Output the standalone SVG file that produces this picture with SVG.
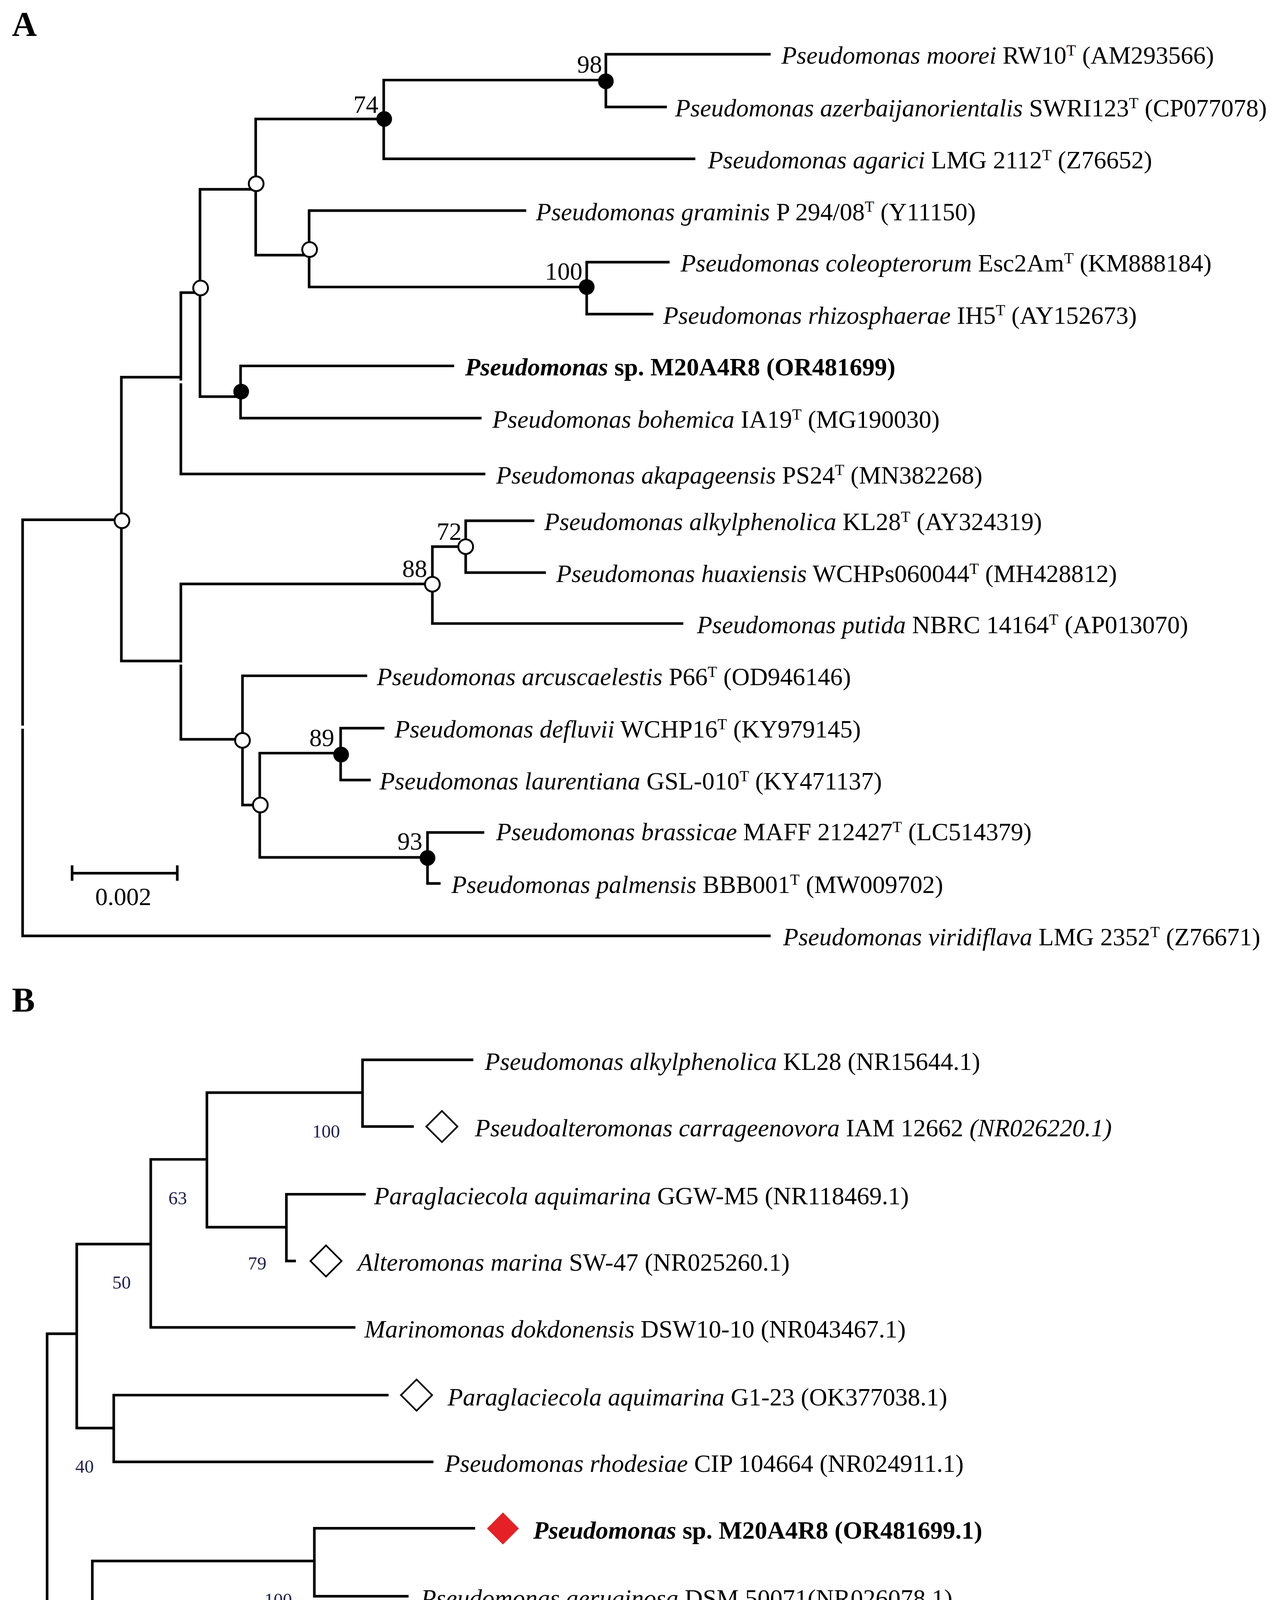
<svg xmlns="http://www.w3.org/2000/svg" width="3290" height="4773" viewBox="0 0 3290 4773">
<style>
.br{stroke:#000;stroke-width:2.2;fill:none;stroke-linejoin:miter;stroke-linecap:butt}
.t{font-family:"Liberation Serif","Times New Roman",serif;font-size:21px;fill:#000}
.i{font-style:italic}
.b{font-weight:bold}
.s{font-size:13px}
.bs{font-family:"Liberation Serif","Times New Roman",serif;font-size:15.5px;fill:#1f1f4f}
.oc{fill:#fff;stroke:#000;stroke-width:1.6}
.fc{fill:#000;stroke:none}
.dm{fill:#fff;stroke:#000;stroke-width:1.4}
.red{fill:#e52027;stroke:none}
.pl{font-family:"Liberation Serif","Times New Roman",serif;font-size:29px;font-weight:bold;fill:#000}
</style>
<rect x="0" y="0" width="3290" height="4773" fill="#fff"/>
<g transform="scale(3.04630)">
<text class="pl" x="10" y="30">A</text>
<text class="pl" x="10" y="850">B</text>

<g id="connectors">
<!-- Panel A -->
<path class="br" d="M647.7 786.5H19V436.8H102.5"/>
<path class="br" d="M152 317H102V555.5H152"/>
<path class="br" d="M168.6 245.9H152V398.3H407.9"/>
<path class="br" d="M215.3 159.1H168.1V333.3H202.7"/>
<path class="br" d="M322.9 100H214.9V214.4H260.2"/>
<path class="br" d="M509.2 67.3H322.5V133.5H584.4"/>
<path class="br" d="M647.7 45.6H509.2V89.9H560.5"/>
<path class="br" d="M442.3 177H259.8V241.2H493.1"/>
<path class="br" d="M562.8 220.3H493.1V264H549.1"/>
<path class="br" d="M381.7 307.5H202.2V351.4H404.7"/>
<path class="br" d="M363.4 490.7H152V621.3H203.8"/>
<path class="br" d="M391.4 459.4H363.4V524H574.3"/>
<path class="br" d="M449.1 437.6H391.4V481.2H458.8"/>
<path class="br" d="M308.6 567.9H203.8V676.5H218.8"/>
<path class="br" d="M286.7 632.9H218.3V720.5H359.3"/>
<path class="br" d="M323.1 611.9H286.3V655.5H311.6"/>
<path class="br" d="M407 699.6H359.3V742.4H370.3"/>
<rect x="150" y="319.8" width="4" height="2.3" fill="#fff"/>
<rect x="150" y="556.7" width="4" height="1.8" fill="#fff"/>
<rect x="17" y="609.8" width="4" height="2.6" fill="#fff"/>
<!-- scale bar A -->
<path class="br" d="M60.6 733.8H149M60.6 727.2V740.2M149 727.2V740.2"/>
<!-- Panel B -->
<path class="br" d="M64.5 1120.8H39.6V1375.4H77.6"/>
<path class="br" d="M126.7 1045.5H64.5V1200.1H95.6"/>
<path class="br" d="M173.9 974.3H126.7V1115.5H298.7"/>
<path class="br" d="M304.7 918.2H173.9V1031.3H240.7"/>
<path class="br" d="M397.8 890.6H304.7V946.7H347.8"/>
<path class="br" d="M307.4 1003.6H240.7V1059.7H248.7"/>
<path class="br" d="M326.6 1172.4H95.6V1228.5H364.3"/>
<path class="br" d="M264.2 1311.8H77.6V1438.5H279.1"/>
<path class="br" d="M399.3 1284.3H264.2V1341.4H343.4"/>
<path class="br" d="M285.6 1396.8H279.1V1480.6H295.3"/>
<path class="br" d="M295.3 1452.2V1510.2H302.4"/>
<!-- scale bar B -->
<path class="br" d="M57.6 1505.6H131.7M57.6 1497.5V1513.7M131.7 1497.5V1513.7"/>
</g>

<!-- Panel A internal nodes -->
<g id="a-n98"><circle class="fc" cx="509.2" cy="68.3" r="6.6"/><text class="t" x="506" y="61" text-anchor="end">98</text></g>
<g id="a-n74"><circle class="fc" cx="322.9" cy="100" r="6.6"/><text class="t" x="318" y="95" text-anchor="end">74</text></g>
<g id="a-n100"><circle class="fc" cx="493.1" cy="241.2" r="6.6"/><text class="t" x="489.5" y="235" text-anchor="end">100</text></g>
<g id="a-nM"><circle class="fc" cx="202.7" cy="329.1" r="6.6"/></g>
<g id="a-n89"><circle class="fc" cx="286.7" cy="634.1" r="6.6"/><text class="t" x="281" y="627" text-anchor="end">89</text></g>
<g id="a-n93"><circle class="fc" cx="359.3" cy="721" r="6.6"/><text class="t" x="355" y="714" text-anchor="end">93</text></g>
<g id="a-n72"><circle class="oc" cx="391.4" cy="459.4" r="6.2"/><text class="t" x="388" y="453.6" text-anchor="end">72</text></g>
<g id="a-n88"><circle class="oc" cx="363.4" cy="491" r="6.2"/><text class="t" x="359" y="485" text-anchor="end">88</text></g>
<g id="a-o1"><circle class="oc" cx="102.5" cy="437.6" r="6.2"/></g>
<g id="a-o2"><circle class="oc" cx="168.6" cy="242" r="6.2"/></g>
<g id="a-o3"><circle class="oc" cx="215.3" cy="154.4" r="6.2"/></g>
<g id="a-o4"><circle class="oc" cx="260.2" cy="209.7" r="6.2"/></g>
<g id="a-o5"><circle class="oc" cx="203.8" cy="622.2" r="6.2"/></g>
<g id="a-o6"><circle class="oc" cx="218.8" cy="676.5" r="6.2"/></g>
<g id="a-scale"><text class="t" x="103.6" y="760.5" text-anchor="middle">0.002</text></g>

<!-- Panel A leaves -->
<g id="a-moorei"><text class="t" x="656.8" y="53.6"><tspan class="i">Pseudomonas moorei</tspan> RW10<tspan class="s" dy="-7">T</tspan><tspan dy="7"> (AM293566)</tspan></text></g>
<g id="a-azerbaijanorientalis"><text class="t" x="567.4" y="97.9"><tspan class="i">Pseudomonas azerbaijanorientalis</tspan> SWRI123<tspan class="s" dy="-7">T</tspan><tspan dy="7"> (CP077078)</tspan></text></g>
<g id="a-agarici"><text class="t" x="594.9" y="141.5"><tspan class="i">Pseudomonas agarici</tspan> LMG 2112<tspan class="s" dy="-7">T</tspan><tspan dy="7"> (Z76652)</tspan></text></g>
<g id="a-graminis"><text class="t" x="450.5" y="185"><tspan class="i">Pseudomonas graminis</tspan> P 294/08<tspan class="s" dy="-7">T</tspan><tspan dy="7"> (Y11150)</tspan></text></g>
<g id="a-coleopterorum"><text class="t" x="572" y="228.3"><tspan class="i">Pseudomonas coleopterorum</tspan> Esc2Am<tspan class="s" dy="-7">T</tspan><tspan dy="7"> (KM888184)</tspan></text></g>
<g id="a-rhizosphaerae"><text class="t" x="557.3" y="272"><tspan class="i">Pseudomonas rhizosphaerae</tspan> IH5<tspan class="s" dy="-7">T</tspan><tspan dy="7"> (AY152673)</tspan></text></g>
<g id="a-m20a4r8"><text class="t b" x="390.9" y="315.5"><tspan class="i">Pseudomonas</tspan> sp. M20A4R8 (OR481699)</text></g>
<g id="a-bohemica"><text class="t" x="413.8" y="359.4"><tspan class="i">Pseudomonas bohemica</tspan> IA19<tspan class="s" dy="-7">T</tspan><tspan dy="7"> (MG190030)</tspan></text></g>
<g id="a-akapageensis"><text class="t" x="417" y="406.3"><tspan class="i">Pseudomonas akapageensis</tspan> PS24<tspan class="s" dy="-7">T</tspan><tspan dy="7"> (MN382268)</tspan></text></g>
<g id="a-alkylphenolica"><text class="t" x="457.4" y="445.6"><tspan class="i">Pseudomonas alkylphenolica</tspan> KL28<tspan class="s" dy="-7">T</tspan><tspan dy="7"> (AY324319)</tspan></text></g>
<g id="a-huaxiensis"><text class="t" x="467.5" y="489.2"><tspan class="i">Pseudomonas huaxiensis</tspan> WCHPs060044<tspan class="s" dy="-7">T</tspan><tspan dy="7"> (MH428812)</tspan></text></g>
<g id="a-putida"><text class="t" x="585.8" y="532"><tspan class="i">Pseudomonas putida</tspan> NBRC 14164<tspan class="s" dy="-7">T</tspan><tspan dy="7"> (AP013070)</tspan></text></g>
<g id="a-arcuscaelestis"><text class="t" x="316.7" y="575.9"><tspan class="i">Pseudomonas arcuscaelestis</tspan> P66<tspan class="s" dy="-7">T</tspan><tspan dy="7"> (OD946146)</tspan></text></g>
<g id="a-defluvii"><text class="t" x="331.6" y="619.9"><tspan class="i">Pseudomonas defluvii</tspan> WCHP16<tspan class="s" dy="-7">T</tspan><tspan dy="7"> (KY979145)</tspan></text></g>
<g id="a-laurentiana"><text class="t" x="319" y="663.5"><tspan class="i">Pseudomonas laurentiana</tspan> GSL-010<tspan class="s" dy="-7">T</tspan><tspan dy="7"> (KY471137)</tspan></text></g>
<g id="a-brassicae"><text class="t" x="417" y="706.2"><tspan class="i">Pseudomonas brassicae</tspan> MAFF 212427<tspan class="s" dy="-7">T</tspan><tspan dy="7"> (LC514379)</tspan></text></g>
<g id="a-palmensis"><text class="t" x="379.4" y="750.4"><tspan class="i">Pseudomonas palmensis</tspan> BBB001<tspan class="s" dy="-7">T</tspan><tspan dy="7"> (MW009702)</tspan></text></g>
<g id="a-viridiflava"><text class="t" x="658.2" y="794.5"><tspan class="i">Pseudomonas viridiflava</tspan> LMG 2352<tspan class="s" dy="-7">T</tspan><tspan dy="7"> (Z76671)</tspan></text></g>

<!-- Panel B support values -->
<g id="b-s1"><text class="bs" x="262.5" y="955.9">100</text></g>
<g id="b-s2"><text class="bs" x="141.6" y="1012">63</text></g>
<g id="b-s3"><text class="bs" x="208.4" y="1067">79</text></g>
<g id="b-s4"><text class="bs" x="94.4" y="1082.8">50</text></g>
<g id="b-s5"><text class="bs" x="63.3" y="1237.7">40</text></g>
<g id="b-s6"><text class="bs" x="222.2" y="1349.5">100</text></g>
<g id="b-s7"><text class="bs" x="44.9" y="1413.4">44</text></g>
<g id="b-s8"><text class="bs" x="237.2" y="1476.5">100</text></g>
<g id="b-s9"><text class="bs" x="262.5" y="1517.8">91</text></g>
<g id="b-scale"><text class="bs" x="76" y="1557.4" style="font-size:16px">0.50</text></g>

<!-- Panel B leaves -->
<g id="b-alkylphenolica"><text class="t" x="407.4" y="899"><tspan class="i">Pseudomonas alkylphenolica</tspan> KL28 (NR15644.1)</text></g>
<g id="b-carrageenovora"><path class="dm" d="M371.4 933.6L384.5 946.7L371.4 959.8L358.3 946.7Z"/><text class="t" x="399.2" y="955"><tspan class="i">Pseudoalteromonas carrageenovora</tspan> IAM 12662 <tspan class="i">(NR026220.1)</tspan></text></g>
<g id="b-ggwm5"><text class="t" x="314.4" y="1012"><tspan class="i">Paraglaciecola aquimarina</tspan> GGW-M5 (NR118469.1)</text></g>
<g id="b-alteromonas"><path class="dm" d="M274 1046.6L287.1 1059.7L274 1072.8L260.9 1059.7Z"/><text class="t" x="300.5" y="1068"><tspan class="i">Alteromonas marina</tspan> SW-47 (NR025260.1)</text></g>
<g id="b-marinomonas"><text class="t" x="306.3" y="1124"><tspan class="i">Marinomonas dokdonensis</tspan> DSW10-10 (NR043467.1)</text></g>
<g id="b-g123"><path class="dm" d="M350.1 1159.3L363.2 1172.4L350.1 1185.5L337 1172.4Z"/><text class="t" x="376.2" y="1181"><tspan class="i">Paraglaciecola aquimarina</tspan> G1-23 (OK377038.1)</text></g>
<g id="b-rhodesiae"><text class="t" x="373.8" y="1237"><tspan class="i">Pseudomonas rhodesiae</tspan> CIP 104664 (NR024911.1)</text></g>
<g id="b-m20a4r8"><path class="red" d="M422.7 1271L436.1 1284.5L422.7 1298L409.3 1284.5Z"/><text class="t b" x="448.2" y="1293"><tspan class="i">Pseudomonas</tspan> sp. M20A4R8 (OR481699.1)</text></g>
<g id="b-aeruginosa"><text class="t" x="353.8" y="1350"><tspan class="i">Pseudomonas aeruginosa</tspan> DSM 50071(NR026078.1)</text></g>
<g id="b-kineobactrum"><path class="dm" d="M309.8 1383.8L322.9 1396.9L309.8 1410L296.7 1396.9Z"/><text class="t" x="334.5" y="1405"><tspan class="i">Kineobactrum salinum</tspan> M2 (NR180541.1)</text></g>
<g id="b-putida"><text class="t" x="306.9" y="1461"><tspan class="i">Pseudomonas putida</tspan> IAM 1236 (NR043424.1)</text></g>
<g id="b-fluorescens"><path class="dm" d="M326.6 1496.6L339.7 1509.7L326.6 1522.8L313.5 1509.7Z"/><text class="t" x="351.2" y="1518"><tspan class="i">Pseudomonas fluorescens</tspan> IAM 12022 (NR043420.1)</text></g>
</g>
</svg>
